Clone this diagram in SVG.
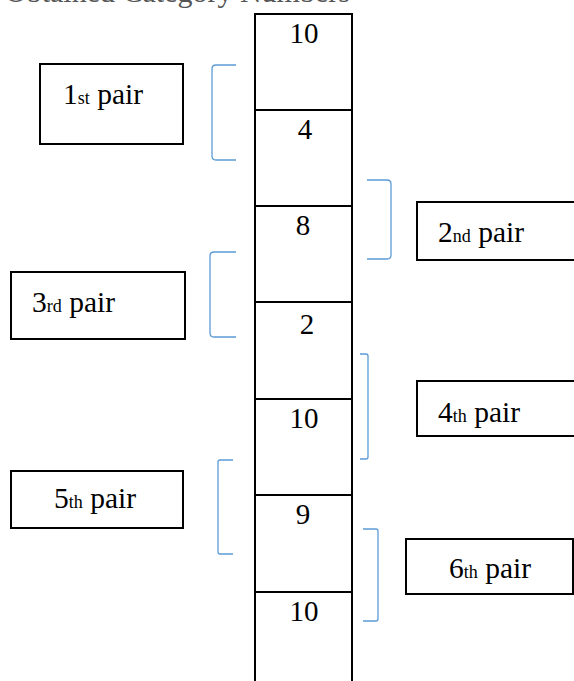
<svg xmlns="http://www.w3.org/2000/svg" width="574" height="681" viewBox="0 0 574 681">
<style>
text{font-family:"Liberation Serif","Times New Roman",serif;fill:#000}
.num{font-size:29px;text-anchor:middle}
.lbl{font-size:29.5px}
.sm{font-size:18px}
.box{fill:#fff;stroke:#000;stroke-width:2}
.col{fill:none;stroke:#000;stroke-width:2}
.br{fill:none;stroke:#5b9bd5;stroke-width:1.3}
.head{font-size:30px;fill:#555}
</style>
<rect width="574" height="681" fill="#fff"/>
<text class="head" x="5" y="1.5">Obtained Category Numbers</text>
<g id="column">
<path class="col" d="M255,14 H352 M255,13 V682 M352,13 V682 M255,110 H352 M255,206 H352 M255,302 H352 M255,399 H352 M255,495 H352 M255,592 H352"/>
<text class="num" x="304" y="43">10</text>
<text class="num" x="305" y="139">4</text>
<text class="num" x="303" y="235">8</text>
<text class="num" x="307" y="334">2</text>
<text class="num" x="304" y="428">10</text>
<text class="num" x="303" y="524">9</text>
<text class="num" x="304" y="621">10</text>
</g>
<g id="connectors">
<path class="br" d="M236,65 H216 Q212,65 212,69 V156 Q212,160 216,160 H236"/>
<path class="br" d="M367,180 H387 Q391,180 391,184 V255 Q391,259 387,259 H367"/>
<path class="br" d="M236,252 H214 Q210,252 210,256 V333 Q210,337 214,337 H236"/>
<path class="br" d="M360,354 H366 Q368,354 368,356 V457 Q368,459 366,459 H360"/>
<path class="br" d="M233,460 H220 Q218,460 218,462 V552 Q218,554 220,554 H233"/>
<path class="br" d="M363,529 H376 Q378,529 378,531 V619 Q378,621 376,621 H363"/>
</g>
<g id="pair1"><rect class="box" x="40" y="64" width="143" height="80"/><text class="lbl" x="63" y="104">1<tspan class="sm">st</tspan> pair</text></g>
<g id="pair2"><rect class="box" x="417" y="202" width="163" height="58"/><text class="lbl" x="438" y="242">2<tspan class="sm">nd</tspan> pair</text></g>
<g id="pair3"><rect class="box" x="11" y="272" width="174" height="67"/><text class="lbl" x="32" y="312">3<tspan class="sm">rd</tspan> pair</text></g>
<g id="pair4"><rect class="box" x="417" y="381" width="163" height="55"/><text class="lbl" x="438" y="422">4<tspan class="sm">th</tspan> pair</text></g>
<g id="pair5"><rect class="box" x="11" y="471" width="172" height="57"/><text class="lbl" x="54" y="508">5<tspan class="sm">th</tspan> pair</text></g>
<g id="pair6"><rect class="box" x="406" y="539" width="167" height="55"/><text class="lbl" x="449" y="578">6<tspan class="sm">th</tspan> pair</text></g>
</svg>
